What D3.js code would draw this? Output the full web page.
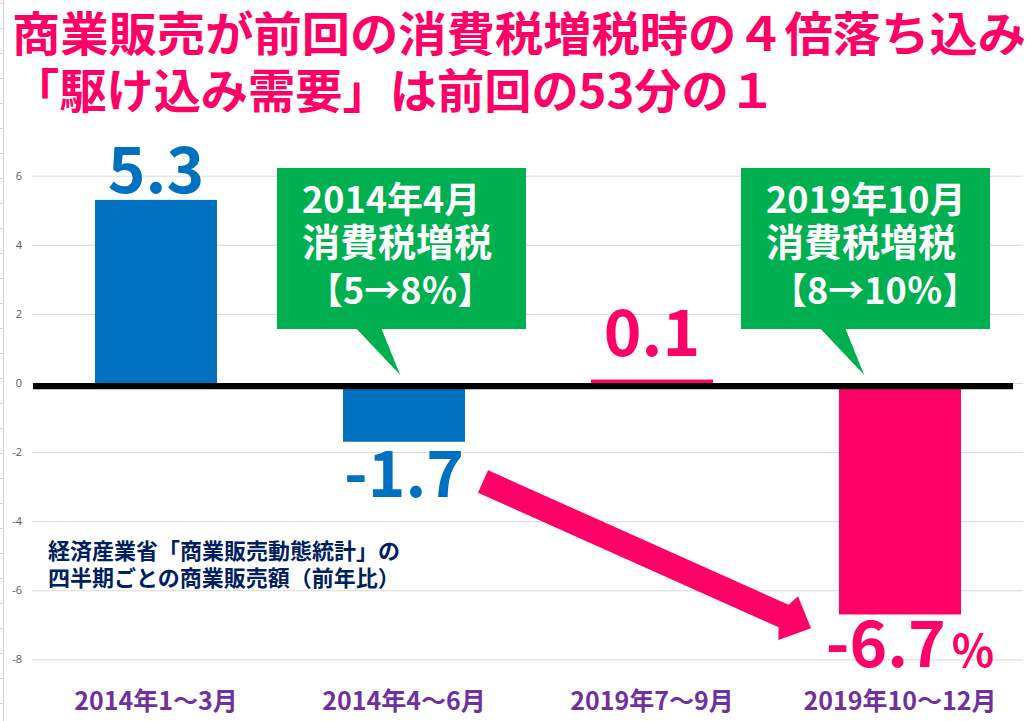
<!DOCTYPE html>
<html>
<head>
<meta charset="utf-8">
<script src="https://cdn.jsdelivr.net/npm/d3@7"></script>
<style>
  html, body { margin: 0; padding: 0; background: #fff; }
  svg text { font-family: "Noto Sans CJK JP", "Noto Sans", sans-serif; }
</style>
</head>
<body>
<div id="vis"></div>
<script>
// chart data
const categories = ["2014年1〜3月", "2014年4〜6月", "2019年7〜9月", "2019年10〜12月"];
const values = [5.3, -1.7, 0.1, -6.7];
const valueLabels = ["5.3", "-1.7", "0.1", "-6.7"];
const yTicks = [-8, -6, -4, -2, 0, 2, 4, 6];
const titleLines = ["商業販売が前回の消費税増税時の４倍落ち込み", "「駆け込み需要」は前回の53分の１"];
const noteLines = ["経済産業省「商業販売動態統計」の", "四半期ごとの商業販売額（前年比）"];
const callout1 = ["2014年4月", "消費税増税", "【5→8％】"];
const callout2 = ["2019年10月", "消費税増税", "【8→10％】"];

const width = 1034, height = 721;
const blue = "#0070C0", pink = "#FF0066", green = "#00B050";
const barColor = i => i < 2 ? blue : pink;

const svg = d3.select("#vis").append("svg")
  .attr("width", width)
  .attr("height", height);

// faint spreadsheet cell lines at the left edge
svg.append("line")
  .attr("x1", 3.5).attr("x2", 3.5).attr("y1", 0).attr("y2", height)
  .attr("stroke", "#d4d4d4");
svg.selectAll(".row-line")
  .data(d3.range(3, height, 25))
  .join("line")
  .attr("class", "row-line")
  .attr("x1", 0).attr("x2", 3.5)
  .attr("y1", d => d + 0.5).attr("y2", d => d + 0.5)
  .attr("stroke", "#d4d4d4");

const x = d3.scaleBand().domain(categories).range([32, 1024])
  .paddingInner(0.508).paddingOuter(0.254);
const y = d3.scaleLinear().domain([-9, 7]).range([383 + 9 * 34.55, 383 - 7 * 34.55]);

// gridlines + tick labels
const yAxis = d3.axisLeft(y).tickValues(yTicks).tickSize(-991).tickPadding(10)
  .tickFormat(d => String(d));
const gy = svg.append("g").attr("transform", "translate(32,0)").call(yAxis);
gy.select(".domain").remove();
gy.selectAll(".tick line").attr("stroke", "#d9d9d9");
gy.selectAll(".tick text")
  .attr("fill", "#595959")
  .style("font-family", "'Open Sans', 'Noto Sans', sans-serif")
  .style("font-size", "11px");

// bars
svg.selectAll(".bar")
  .data(values)
  .join("rect")
  .attr("class", "bar")
  .attr("x", (d, i) => x(categories[i]))
  .attr("width", x.bandwidth())
  .attr("y", d => y(Math.max(0, d)))
  .attr("height", d => Math.abs(y(d) - y(0)))
  .attr("fill", (d, i) => barColor(i));

// thick zero line
svg.append("line")
  .attr("x1", 33).attr("x2", 1013)
  .attr("y1", y(0) + 3.2).attr("y2", y(0) + 3.2)
  .attr("stroke", "#000").attr("stroke-width", 6.2);

// value labels
const labelDy = [-7, 55, -24, 53];
const labelDx = [0, 0, 0, 10];
const labels = svg.selectAll(".vlabel")
  .data(values)
  .join("text")
  .attr("class", "vlabel")
  .attr("x", (d, i) => x(categories[i]) + x.bandwidth() / 2 + labelDx[i])
  .attr("y", (d, i) => y(d) + labelDy[i])
  .attr("text-anchor", "middle")
  .attr("fill", (d, i) => barColor(i))
  .style("font-size", "64px")
  .style("font-weight", "bold")
  .text((d, i) => valueLabels[i]);
labels.filter((d, i) => i === 3)
  .append("tspan").attr("dx", 6).style("font-size", "44px").text("%");

// title
svg.selectAll(".title")
  .data(titleLines)
  .join("text")
  .attr("class", "title")
  .attr("x", 12)
  .attr("y", (d, i) => [51, 108][i])
  .attr("fill", pink)
  .attr("textLength", (d, i) => [1014, 764][i])
  .attr("lengthAdjust", "spacingAndGlyphs")
  .style("font-size", "47px")
  .style("font-weight", "bold")
  .text(d => d);

// source note
svg.selectAll(".note")
  .data(noteLines)
  .join("text")
  .attr("class", "note")
  .attr("x", 48)
  .attr("y", (d, i) => [559, 586][i])
  .attr("fill", "#002060")
  .style("font-size", "22px")
  .style("font-weight", "bold")
  .text(d => d);

// callouts
function drawCallout(lines, cat, dx) {
  const bx = x(cat) + dx, by = 168, bw = 249, bh = 161;
  const g = svg.append("g");
  const tailL = bx + bw * 0.32, tailR = bx + bw * 0.42;
  const tipX = bx + bw * 0.495, tipY = y(0) - 8;
  g.append("path")
    .attr("d", `M${bx},${by}H${bx + bw}V${by + bh}H${tailR}L${tipX},${tipY}L${tailL},${by + bh}H${bx}Z`)
    .attr("fill", green);
  g.selectAll("text")
    .data(lines)
    .join("text")
    .attr("x", (d, i) => bx + (i === 2 ? 30 : 25))
    .attr("y", (d, i) => by + [45, 88, 136][i])
    .attr("fill", "#fff")
    .style("font-size", (d, i) => i === 1 ? "38px" : "36px")
    .style("font-weight", "bold")
    .text(d => d);
}
drawCallout(callout1, categories[1], -66);
drawCallout(callout2, categories[3], -98);

// big arrow from the 2014 drop to the 2019 drop
(function () {
  const x0 = x(categories[1]) + x.bandwidth() + 18, y0 = y(-2.85);
  const x1 = x(categories[3]) - 28, y1 = y(-7.1);
  const len = Math.hypot(x1 - x0, y1 - y0);
  const ux = (x1 - x0) / len, uy = (y1 - y0) / len;
  const nx = -uy, ny = ux;
  const sw = 12.3, hw = 24, hl = 30;
  const bxh = x1 - ux * hl, byh = y1 - uy * hl;
  const pts = [
    [x0 + nx * sw, y0 + ny * sw],
    [bxh + nx * sw, byh + ny * sw],
    [bxh + nx * hw + ux * 5, byh + ny * hw + uy * 5],
    [x1, y1],
    [bxh - nx * hw + ux * 5, byh - ny * hw + uy * 5],
    [bxh - nx * sw, byh - ny * sw],
    [x0 - nx * sw, y0 - ny * sw]
  ];
  svg.append("path").attr("d", d3.line()(pts) + "Z").attr("fill", pink);
})();

// category labels
svg.selectAll(".cat")
  .data(categories)
  .join("text")
  .attr("class", "cat")
  .attr("x", d => x(d) + x.bandwidth() / 2)
  .attr("y", 710)
  .attr("text-anchor", "middle")
  .attr("fill", "#7030A0")
  .style("font-size", "25px")
  .style("font-weight", "bold")
  .text(d => d);
</script>
</body>
</html>
